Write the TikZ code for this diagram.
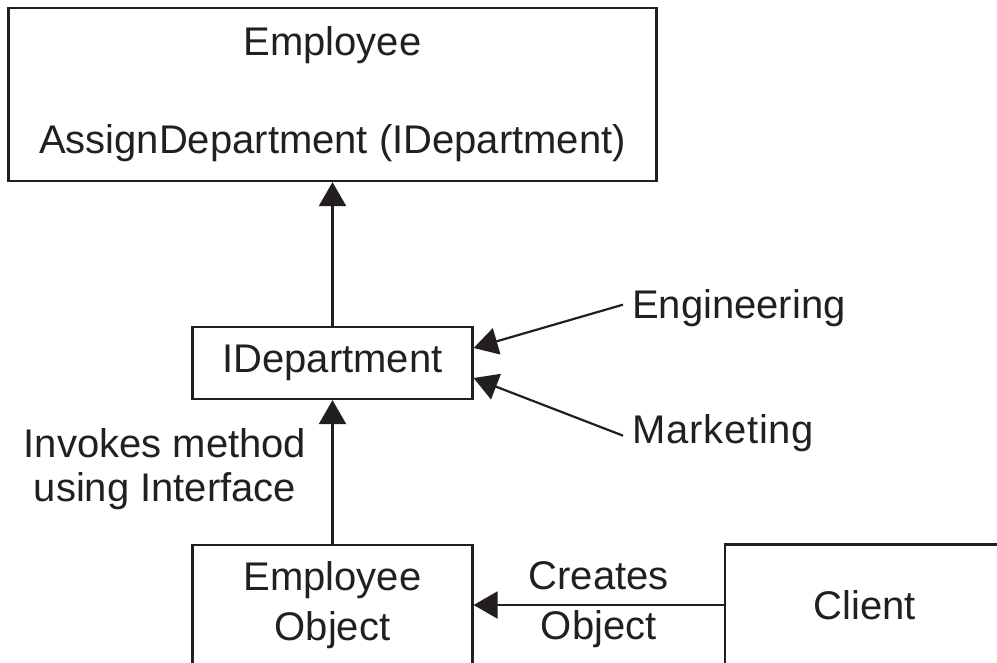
\documentclass[tikz,border=0pt]{standalone}
\usepackage{fontspec}
\setmainfont{Liberation Sans}
\usetikzlibrary{arrows.meta}
\definecolor{ink}{RGB}{35,31,32}
\begin{document}
\begin{tikzpicture}[x=1pt,y=-1pt,
  box/.style={draw=ink,line width=2.2pt,inner sep=0pt,align=center,text=ink,
    font=\fontsize{40}{48}\selectfont},
  lbl/.style={inner sep=0pt,align=center,text=ink,font=\fontsize{40}{48}\selectfont},
  arr/.style={draw=ink,line width=2.2pt,-{Triangle[length=24pt,width=27pt]}}]
\clip (0,0) rectangle (997,662);
\node[box,minimum width=648pt,minimum height=173pt] (emp) at (332.5,94.5)
  {Employee\\[50pt]AssignDepartment (IDepartment)};
\node[box,minimum width=280pt,minimum height=72pt] (idep) at (332.5,363) {IDepartment};
\node[box,minimum width=280pt,minimum height=120pt] (eo) at (332.5,605)
  {Employee\\[2pt]Object};
\node[box,minimum width=280pt,minimum height=121pt] (client) at (865,605) {Client};
\node[lbl,anchor=base west] (eng) at (632,318) {Engineering};
\node[lbl,anchor=base west] (mkt) at (632,443) {\addfontfeature{LetterSpace=2}Marketing};
\node[lbl] (inv) at (165,469) {Invokes method\\[-4pt]using Interface};
\draw[arr] (idep.north) -- (emp.south);
\draw[arr] (eo.north) -- (idep.south);
\draw[arr] ([xshift=-9pt,yshift=3pt]eng.west) -- ([yshift=15pt]idep.east);
\draw[arr] ([xshift=-9pt,yshift=-3pt]mkt.west) -- ([yshift=-15pt]idep.east);
\draw[arr] (client.west) -- node[lbl] (cr) {Creates\\[2pt]Object} (eo.east);
\end{tikzpicture}
\end{document}
